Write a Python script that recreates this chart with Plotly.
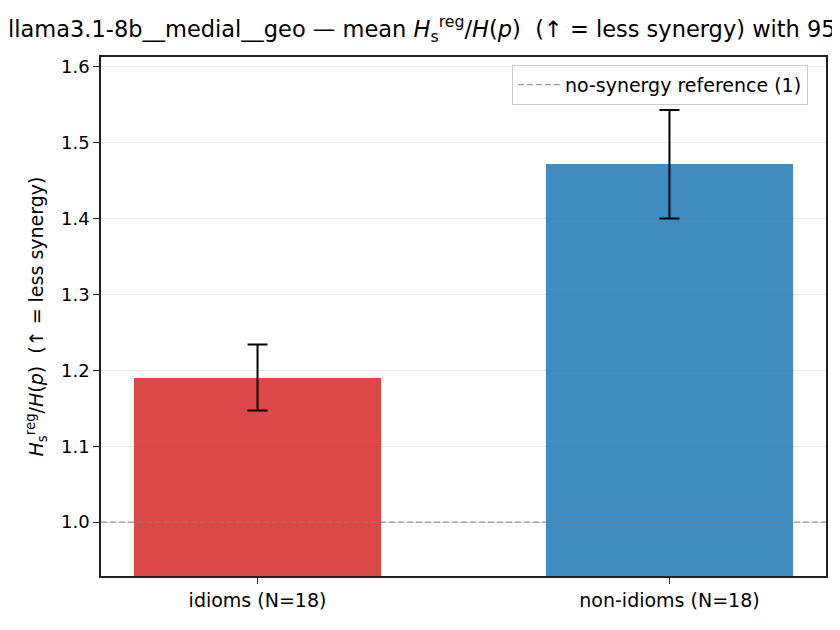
import plotly.graph_objects as go

# values
categories = ["idioms (N=18)", "non-idioms (N=18)"]
means = [1.190, 1.472]
ci_low = [1.147, 1.400]
ci_high = [1.234, 1.543]
bar_colors = ["rgba(214,39,40,0.85)", "rgba(31,119,180,0.85)"]
reference_value = 1.0
y_ticks = [1.0, 1.1, 1.2, 1.3, 1.4, 1.5, 1.6]

err_plus = [h - m for h, m in zip(ci_high, means)]
err_minus = [m - l for m, l in zip(means, ci_low)]

ratio = "<i>H</i><sub>s</sub><sup>reg</sup>/<i>H</i>(<i>p</i>)"
font = "DejaVu Sans"

# page body has an 8px margin, so the figure is a bit smaller than the window
W, H = 832, 622

fig = go.Figure()
fig.add_trace(go.Bar(
    x=categories, y=means, width=0.6,
    marker=dict(color=bar_colors, line=dict(width=0)),
    error_y=dict(type="data", symmetric=False, array=err_plus, arrayminus=err_minus,
                 color="black", thickness=2, width=10),
    showlegend=False,
))
fig.add_hline(y=reference_value, line=dict(color="rgba(128,128,128,0.8)", width=1.3, dash="6px,3px"),
              showlegend=True, name="no-synergy reference (1)", layer="above")

fig.update_layout(
    width=W, height=H,
    margin=dict(l=93, r=14, t=49, b=54),
    plot_bgcolor="white", paper_bgcolor="white",
    font=dict(family=font, size=18, color="black"),
    # long title: it runs off the right edge like the original
    title=dict(text=f"llama3.1-8b__medial__geo — mean {ratio}  (↑ = less synergy) with 95% CI",
               x=0, xref="container", xanchor="left", y=1 - 21 / H, yref="container",
               yanchor="middle", font=dict(size=22.5, family=font)),
    legend=dict(x=0.975, y=0.985, xanchor="right", yanchor="top", itemwidth=42,
                bgcolor="rgba(255,255,255,0.8)", bordercolor="#cccccc", borderwidth=1,
                font=dict(size=19)),
    xaxis=dict(range=[-0.38, 1.38], showline=True, linecolor="#222", linewidth=1.5, mirror=True,
               ticks="outside", ticklen=6, tickcolor="#222", showgrid=False,
               tickfont=dict(size=19)),
    yaxis=dict(range=[0.929, 1.613], tickvals=y_ticks, ticktext=[f"{v:.1f}" for v in y_ticks],
               showline=True, linecolor="#222", linewidth=1.5, mirror=True,
               ticks="outside", ticklen=6, tickcolor="#222",
               showgrid=True, gridcolor="#e8e8e8", gridwidth=1, zeroline=False,
               title=dict(text=f"{ratio}  (↑ = less synergy)", standoff=12, font=dict(size=19))),
)

fig.write_html("out.html")
